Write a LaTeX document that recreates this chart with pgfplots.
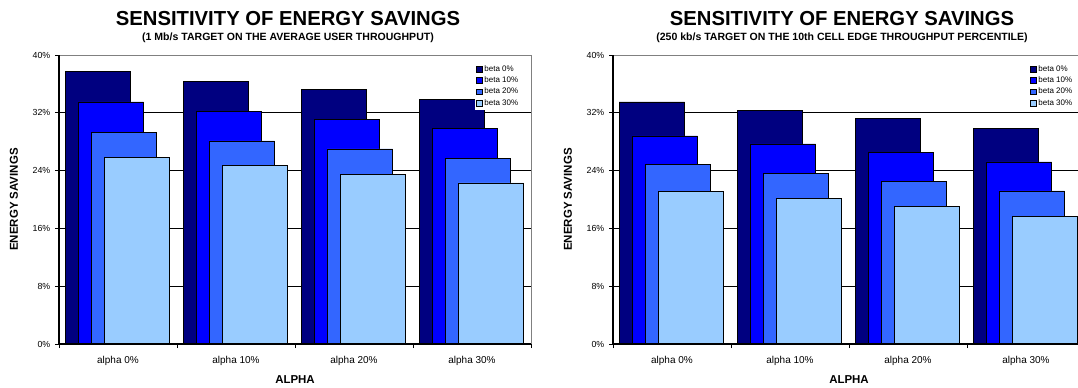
\documentclass[border=0pt]{standalone}
\usepackage{pgfplots}
\pgfplotsset{compat=1.18}
\usepackage{pgfplotstable}
\usepackage{fontspec}
\setmainfont{Liberation Sans}

\definecolor{betaA}{HTML}{000080}
\definecolor{betaB}{HTML}{0000FF}
\definecolor{betaC}{HTML}{3366FF}
\definecolor{betaD}{HTML}{99CCFF}

% Energy savings (%) per alpha level, one column per beta level
\pgfplotstableread{
x  b0    b10   b20   b30
0  37.7  33.5  29.3  25.8
1  36.4  32.2  28.1  24.7
2  35.2  31.1  27.0  23.5
3  33.9  29.8  25.7  22.3
}\avgtable

\pgfplotstableread{
x  b0    b10   b20   b30
0  33.5  28.8  24.8  21.1
1  32.3  27.7  23.6  20.2
2  31.2  26.5  22.5  19.0
3  29.8  25.2  21.2  17.7
}\edgetable

\pgfplotsset{
  savings/.style={
    scale only axis, width=354pt, height=216.75pt,
    anchor=south west,
    xmin=-0.5, xmax=3.5, ymin=0, ymax=40,
    xtick={-0.5,0.5,1.5,2.5,3.5}, x tick label as interval,
    xticklabels={alpha 0\%, alpha 10\%, alpha 20\%, alpha 30\%},
    ytick={0,8,16,24,32,40},
    yticklabels={0\%,8\%,16\%,24\%,32\%,40\%},
    /pgf/number format/assume math mode=true,
    tick pos=left, tick align=outside, major tick length=3pt,
    every tick/.style={black, line width=0.6pt},
    xticklabel style={font=\fontsize{7.5}{9}\selectfont, yshift=-3pt},
    yticklabel style={font=\fontsize{6.6}{8}\selectfont},
    ymajorgrids, major grid style={black, line width=0.5pt},
    axis line style={draw=none},
    clip=false,
    legend cell align=left,
    legend style={at={(rel axis cs:0.881,0.975)}, anchor=north west,
      draw=none, fill=white, inner sep=1pt,
      font=\fontsize{6}{7}\selectfont,
      nodes={text height=4.6pt, text depth=1.4pt, inner sep=1.2pt}},
  },
  series/.style={ybar, bar width=0.555, bar shift=#1,
    draw=black, line width=0.5pt,
    legend image code/.code={\draw[##1, line width=0.4pt]
      (0pt,-2.2pt) rectangle (4.4pt,2.2pt);}},
}

\newcommand{\drawframe}{%
  \draw[gray, line width=0.6pt] (rel axis cs:0,1) -- (rel axis cs:1,1) -- (rel axis cs:1,0);
  \draw[black, line width=0.8pt] (rel axis cs:0,1) -- (rel axis cs:0,0) -- (rel axis cs:1,0);
}

\begin{document}
\begin{tikzpicture}
\useasboundingbox (0pt,0pt) rectangle (808.5pt,290.25pt);

% ---- average user throughput target ----
\begin{axis}[savings, at={(44.25pt,32.25pt)}]
  \addplot[series=-0.1715, fill=betaA] table[x=x, y=b0]  {\avgtable};
  \addlegendentry{beta 0\%}
  \addplot[series=-0.0605, fill=betaB] table[x=x, y=b10] {\avgtable};
  \addlegendentry{beta 10\%}
  \addplot[series=0.0505,  fill=betaC] table[x=x, y=b20] {\avgtable};
  \addlegendentry{beta 20\%}
  \addplot[series=0.1615,  fill=betaD] table[x=x, y=b30] {\avgtable};
  \addlegendentry{beta 30\%}
  \drawframe
\end{axis}

% ---- cell edge throughput target ----
\begin{axis}[savings, at={(459.75pt,32.25pt)}]
  \addplot[series=-0.1715, fill=betaA] table[x=x, y=b0]  {\edgetable};
  \addlegendentry{beta 0\%}
  \addplot[series=-0.0605, fill=betaB] table[x=x, y=b10] {\edgetable};
  \addlegendentry{beta 10\%}
  \addplot[series=0.0505,  fill=betaC] table[x=x, y=b20] {\edgetable};
  \addlegendentry{beta 20\%}
  \addplot[series=0.1615,  fill=betaD] table[x=x, y=b30] {\edgetable};
  \addlegendentry{beta 30\%}
  \drawframe
\end{axis}

% titles and axis names
\node[font=\bfseries\fontsize{15.2}{18}\selectfont] at (216pt,276.6pt)
  {SENSITIVITY OF ENERGY SAVINGS};
\node[font=\bfseries\fontsize{7.9}{9.5}\selectfont] at (216pt,262.2pt)
  {(1 Mb/s TARGET ON THE AVERAGE USER THROUGHPUT)};
\node[font=\bfseries\fontsize{15.2}{18}\selectfont] at (631.5pt,276.6pt)
  {SENSITIVITY OF ENERGY SAVINGS};
\node[font=\bfseries\fontsize{7.9}{9.5}\selectfont] at (631.5pt,262.2pt)
  {(250 kb/s TARGET ON THE 10th CELL EDGE THROUGHPUT PERCENTILE)};

\node[font=\bfseries\fontsize{8.6}{10}\selectfont, rotate=90] at (10.5pt,140.6pt)
  {ENERGY SAVINGS};
\node[font=\bfseries\fontsize{8.6}{10}\selectfont, rotate=90] at (426pt,140.6pt)
  {ENERGY SAVINGS};
\node[font=\bfseries\fontsize{8.6}{10}\selectfont] at (221.25pt,5.6pt) {ALPHA};
\node[font=\bfseries\fontsize{8.6}{10}\selectfont] at (636.75pt,5.6pt) {ALPHA};
\end{tikzpicture}
\end{document}
